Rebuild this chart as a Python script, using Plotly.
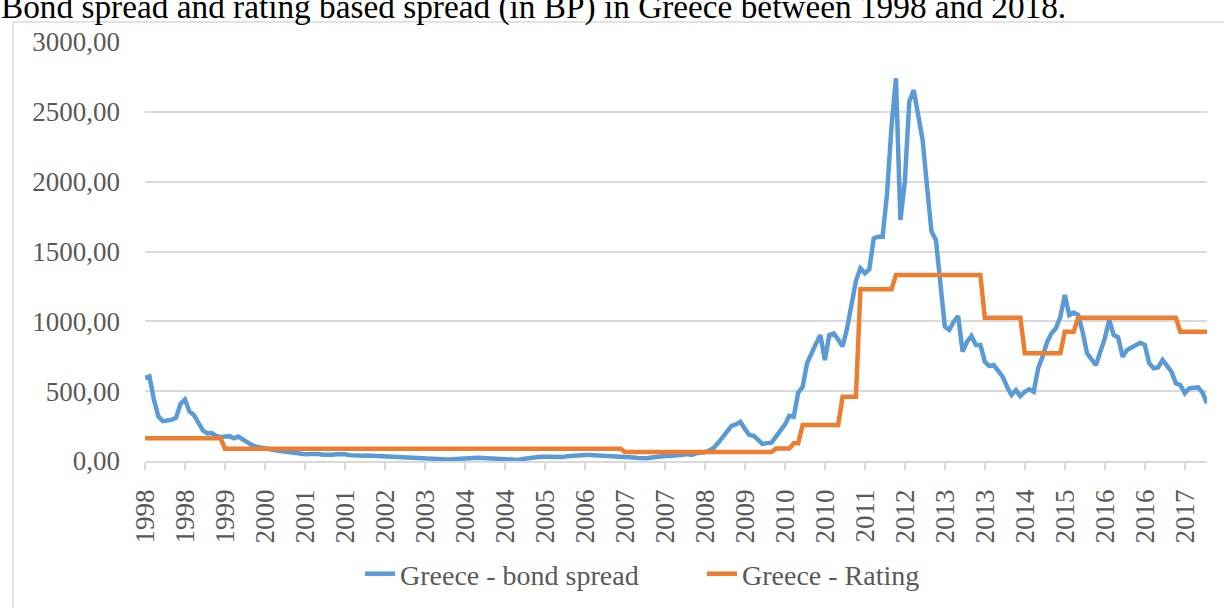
import plotly.graph_objects as go
import pandas as pd

# monthly categories Jan 1998 .. Dec 2017
months = [d.strftime("%Y-%m") for d in pd.date_range("1998-01-01", periods=240, freq="MS")]

tick_labels = ["1998", "1998", "1999", "2000", "2001", "2001", "2002", "2003", "2004",
               "2004", "2005", "2006", "2007", "2007", "2008", "2009", "2010", "2010",
               "2011", "2012", "2013", "2013", "2014", "2015", "2016", "2016", "2017"]

bond_spread = [
    595, 605, 440, 320, 285, 290, 295, 310, 410, 440, 355, 330,
    270, 220, 198, 200, 180, 170, 175, 178, 162, 175, 155, 130,
    115, 102, 95, 88, 80, 78, 74, 70, 65, 60, 55, 50,
    48, 50, 52, 50, 45, 43, 45, 48, 50, 48, 42, 38,
    36, 38, 40, 38, 38, 36, 38, 35, 30, 26, 24, 22,
    20, 18, 19, 18, 16, 12, 8, 9, 11, 12, 15, 18,
    20, 22, 24, 24, 22, 20, 19, 18, 20, 19, 15, 10,
    8, 14, 20, 25, 30, 31, 30, 28, 25, 22, 28, 34,
    38, 38, 40, 43, 43, 42, 40, 38, 36, 35, 33, 31,
    30, 28, 25, 22, 19, 20, 25, 31, 33, 35, 36, 38,
    36, 45, 50, 44, 55, 58, 62, 75, 95, 130, 170, 220,
    251, 262, 281, 230, 186, 180, 150, 122, 128, 131, 174, 220,
    260, 324, 317, 490, 530, 700, 780, 840, 902, 723, 902, 914,
    870, 820, 950, 1120, 1290, 1380, 1344, 1372, 1594, 1606, 1606, 1917,
    2394, 2740, 1726, 2000, 2573, 2656, 2477, 2298, 1964, 1642, 1582, 1248,
    962, 938, 997, 1038, 783, 854, 895, 831, 831, 711, 680, 687,
    640, 604, 532, 473, 508, 465, 496, 513, 496, 664, 747, 850,
    914, 950, 1033, 1189, 1045, 1062, 1045, 926, 771, 730, 687, 783,
    878, 1010, 902, 886, 747, 795, 810, 830, 847, 831, 700, 664,
    670, 723, 675, 640, 556, 544, 485, 520, 525, 528, 489, 413,
]

rating_spread = ([162] * 18 + [88] * 90 + [65] * 34 + [90] * 4 + [127] * 2 +
                 [258] * 9 + [460] * 4 + [1229] * 8 + [1332] * 20 + [1025] * 9 +
                 [771] * 9 + [926] * 3 + [1025] * 23 + [926] * 7)

y_ticks = [0, 500, 1000, 1500, 2000, 2500, 3000]
y_tick_text = ["0,00", "500,00", "1000,00", "1500,00", "2000,00", "2500,00", "3000,00"]

title_text = "Bond spread and rating based spread (in BP) in Greece between 1998 and 2018."

FONT = "Liberation Serif, Times New Roman, serif"
GRID = "#D9D9D9"
TXT = "#595959"

fig = go.Figure()
fig.add_trace(go.Scatter(x=months, y=bond_spread, mode="lines", name="Greece - bond spread",
                         line=dict(color="#5B9BD5", width=4.5)))
fig.add_trace(go.Scatter(x=months, y=rating_spread, mode="lines", name="Greece - Rating",
                         line=dict(color="#ED7D31", width=4.5)))

L, R, T, B = 145, 17, 42, 147
W, H = 1224, 608
pw, ph = W - L - R, H - T - B

def px_x(p):
    return (p - L) / pw

def px_y(p):
    return (H - B - p) / ph

fig.update_layout(
    width=W, height=H,
    margin=dict(l=L, r=R, t=T, b=B, autoexpand=False),
    paper_bgcolor="white", plot_bgcolor="white",
    font=dict(family=FONT, color=TXT),
    showlegend=True,
    legend=dict(orientation="h", x=px_x(360), xanchor="left", y=px_y(574), yanchor="middle",
                font=dict(size=28, color=TXT, family=FONT), itemwidth=30,
                entrywidth=297, entrywidthmode="pixels",
                bgcolor="rgba(0,0,0,0)"),
    xaxis=dict(type="category", range=[0, 239], tickmode="array",
               tickvals=months[::9], ticktext=tick_labels, tickangle=-90,
               tickfont=dict(size=27, family=FONT, color=TXT),
               showgrid=False, showline=True, linecolor=GRID, linewidth=1.5,
               ticks="outside", ticklen=7, tickcolor=GRID, tickwidth=1.5, zeroline=False,
               ticklabelstandoff=9),
    yaxis=dict(range=[0, 3000], tickmode="array", tickvals=y_ticks, ticktext=y_tick_text,
               tickfont=dict(size=27, family=FONT, color=TXT),
               showgrid=True, gridcolor=GRID, gridwidth=1.5, showline=False,
               zeroline=False, ticks="", ticklabelstandoff=24),
    annotations=[dict(text=title_text, xref="paper", yref="paper", x=px_x(-1), y=1,
                      xanchor="left", yanchor="bottom", yshift=14, showarrow=False,
                      font=dict(size=33.3, color="black", family=FONT))],
    shapes=[dict(type="rect", xref="paper", yref="paper", x0=px_x(13), x1=px_x(1240),
                 y0=px_y(620), y1=px_y(22), line=dict(color=GRID, width=1.5),
                 fillcolor="rgba(0,0,0,0)", layer="below")],
)

fig.write_html("out.html", config={"displayModeBar": False},
               post_script="document.body.style.margin='0';")
